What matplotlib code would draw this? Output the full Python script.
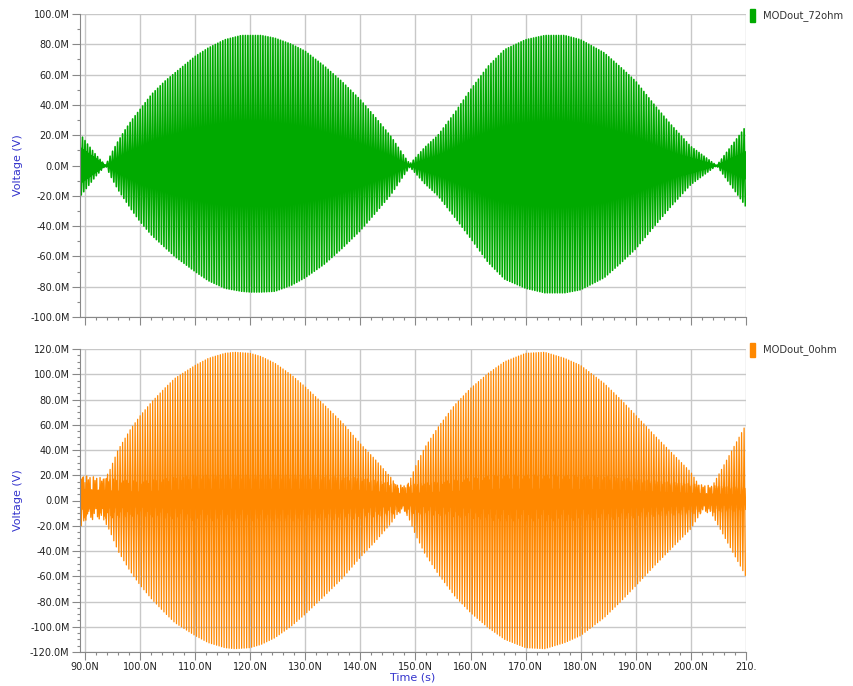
import numpy as np
import matplotlib
matplotlib.use("Agg")
import matplotlib.pyplot as plt
from matplotlib.patches import Rectangle
from matplotlib.ticker import FixedLocator, MultipleLocator

# envelopes (time in ns, voltage in "M" units)
t_green = [89.1, 90.5, 92.0, 93.75, 94.8, 96.0, 97.3, 98.5, 100.0, 102.1, 104.5,
           106.3, 110.0, 112.4, 115.4, 118.4, 120.0, 122.0, 124.5, 127.5, 130.0,
           133.5, 136.6, 140.0, 142.6, 145.6, 148.0, 149.0, 151.7, 154.1, 157.1,
           160.0, 163.2, 166.2, 170.0, 173.5, 177.1, 180.0, 184.3, 187.4, 190.0,
           193.4, 196.4, 200.0, 204.7, 210.0]
green_top = [21, 14, 7, 0, 8, 16, 23.6, 30, 37, 47, 55.6, 61, 72, 77.6, 83, 85.8,
             85.8, 85.8, 84, 80, 75.4, 65.5, 55.6, 43.4, 32.4, 19, 6, 1, 12, 20,
             34.6, 50, 65.5, 76.5, 83, 85.8, 85.8, 83, 74.3, 64.4, 55.6, 40, 27,
             12.6, 0, 25.8]
green_bot = [20.5, 14, 7, 0, 8, 16, 23, 29.5, 37, 46, 54, 60, 70, 76, 81, 83,
             83.5, 83.5, 83, 79, 74, 65, 55, 43, 32, 19, 6, 1, 12, 20, 34, 48,
             64, 75, 81, 84, 84, 82, 74, 64, 55, 40, 27, 12.6, 0, 27]
t_green_in = [89.1, 91.0, 93.75, 97.0, 100.0, 105.0, 110.0, 115.0, 120.0, 125.0,
              130.0, 135.0, 140.0, 145.0, 149.0, 152.0, 155.0, 160.0, 165.0,
              170.0, 175.0, 180.0, 185.0, 190.0, 195.0, 200.0, 204.7, 210.0]
green_in = [12, 7, 0, 4, 7, 10, 14, 18, 20, 20, 18, 15, 11, 6, 0, 4, 7, 11, 15,
            18, 20, 20, 18, 14, 9, 5, 0, 9]

t_orange = [89.1, 90.5, 91.5, 93.0, 94.5, 96.0, 98.2, 100.0, 102.1, 104.5, 106.3,
            110.0, 112.4, 115.4, 117.2, 120.0, 122.0, 124.5, 127.5, 130.0, 133.5,
            136.6, 140.0, 142.6, 145.6, 147.6, 149.0, 150.0, 151.7, 154.1, 157.1,
            160.0, 163.2, 166.2, 170.0, 173.5, 177.1, 180.0, 184.3, 187.4, 190.0,
            193.4, 196.4, 200.0, 202.8, 205.5, 208.5, 210.0]
orange_top = [22, 10, 3, 12, 24, 40, 56, 67, 78, 89, 96.7, 107, 112.6, 116.6,
              117.4, 116.6, 114, 108.7, 99.4, 90, 75.5, 62.3, 45, 33, 18, 5, 16,
              27, 42, 58, 75.5, 88.8, 100.7, 110, 116.6, 117.4, 112.6, 107, 92.7,
              79.5, 67.6, 51.7, 38.4, 22.5, 3, 24, 48, 60]
t_orange_in = [89.1, 95.0, 100.0, 110.0, 120.0, 130.0, 140.0, 147.6, 155.0, 165.0,
               175.0, 185.0, 195.0, 203.0, 210.0]
orange_in = [20, 17, 15, 20, 20, 20, 18, 12, 15, 20, 20, 19, 15, 12, 10]
orange_pattern = [1.0, 0.55, 0.85, 0.35, 0.95, 0.7, 0.45, 0.8]

x_ticks = [90, 100, 110, 120, 130, 140, 150, 160, 170, 180, 190, 200, 210]
x_labels = ["90.0N", "100.0N", "110.0N", "120.0N", "130.0N", "140.0N", "150.0N",
            "160.0N", "170.0N", "180.0N", "190.0N", "200.0N", "210."]
top_yticks = [100, 80, 60, 40, 20, 0, -20, -40, -60, -80, -100]
bot_yticks = [120, 100, 80, 60, 40, 20, 0, -20, -40, -60, -80, -100, -120]

PERIOD = 0.455  # carrier period, ns
GREEN = "#00aa00"
ORANGE = "#ff8800"
BLUE = "#3333cc"


def zigzag(t_env, hi, lo, step, scale=None):
    t = np.arange(t_env[0], t_env[-1], step)
    up = np.interp(t, t_env, hi)
    dn = np.interp(t, t_env, lo)
    idx = np.arange(t.size)
    v = np.where(idx % 2 == 0, up, -dn)
    if scale is not None:
        v = v * np.asarray(scale)[idx % len(scale)]
    return t, v


def style_axes(ax, yticks, ylim, minor, show_xlabels):
    ax.set_xlim(89.1, 210.02)
    ax.set_ylim(*ylim)
    ax.xaxis.set_major_locator(FixedLocator(x_ticks))
    ax.xaxis.set_minor_locator(MultipleLocator(2))
    ax.yaxis.set_major_locator(FixedLocator(yticks))
    ax.yaxis.set_minor_locator(MultipleLocator(minor))
    if show_xlabels:
        ax.set_xticklabels(x_labels)
    else:
        ax.set_xticklabels([])
    ax.set_yticklabels(["%.1fM" % v for v in yticks])
    ax.grid(True, which="major", color="#c8c8c8", lw=1.0)
    ax.set_axisbelow(True)
    for s in ["top", "right"]:
        ax.spines[s].set_visible(False)
    for s in ["left", "bottom"]:
        ax.spines[s].set_color("#888888")
    ax.tick_params(which="major", length=6, width=0.8, color="#888888",
                   labelsize=7, labelcolor="#222222", pad=1.5)
    ax.tick_params(which="minor", length=2.5, width=0.8, color="#888888")
    ax.set_ylabel("Voltage (V)", color=BLUE, fontsize=8)
    ax.yaxis.set_label_coords(-0.086, 0.5)


fig = plt.figure(figsize=(8.54, 6.86), dpi=100)
ax1 = fig.add_axes([80 / 854, 1 - 317 / 686, 666 / 854, 303 / 686])
ax2 = fig.add_axes([80 / 854, 1 - 652 / 686, 666 / 854, 303 / 686])

t, v = zigzag(t_green, green_top, green_bot, PERIOD / 2)
ax1.plot(t, v, color=GREEN, lw=1.2)
t, v = zigzag(t_green_in, green_in, green_in, PERIOD / 6)
ax1.plot(t, v, color=GREEN, lw=1.0)
style_axes(ax1, top_yticks, (-100, 100), 10, False)

t, v = zigzag(t_orange, orange_top, orange_top, PERIOD / 2)
ax2.plot(t, v, color=ORANGE, lw=0.9)
t, v = zigzag(t_orange_in, orange_in, orange_in, PERIOD / 3, orange_pattern)
ax2.plot(t, v, color=ORANGE, lw=1.0)
style_axes(ax2, bot_yticks, (-120, 120), 5, True)

fig.text(413 / 854, 1 - 677 / 686, "Time (s)", color=BLUE, fontsize=8,
         ha="center", va="center")

# legends on the right
fig.patches.append(Rectangle((750 / 854, 1 - 22 / 686), 5 / 854, 13 / 686,
                             transform=fig.transFigure, color=GREEN))
fig.text(763 / 854, 1 - 15.5 / 686, "MODout_72ohm", fontsize=7.2,
         color="#333333", va="center")
fig.patches.append(Rectangle((750 / 854, 1 - 357 / 686), 5 / 854, 14 / 686,
                             transform=fig.transFigure, color=ORANGE))
fig.text(763 / 854, 1 - 350 / 686, "MODout_0ohm", fontsize=7.2,
         color="#333333", va="center")

fig.savefig("out.png", dpi=100)
